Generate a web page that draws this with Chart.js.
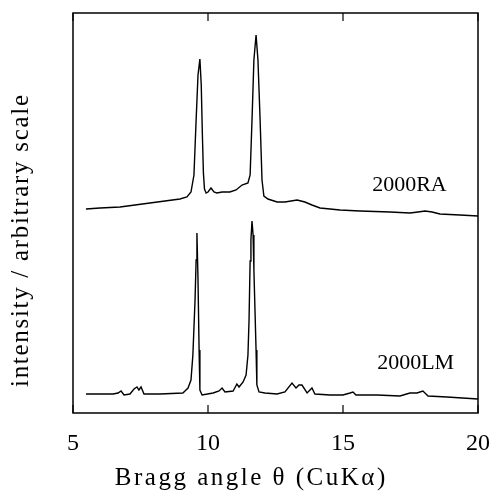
<!DOCTYPE html>
<html>
<head>
<meta charset="utf-8">
<script src="https://cdn.jsdelivr.net/npm/chart.js@4/dist/chart.umd.min.js"></script>
<style>
  html, body { margin: 0; padding: 0; background: #fff; }
  #wrap { width: 497px; height: 491px; }
</style>
</head>
<body>
<div id="wrap"><canvas id="xrdChart"></canvas></div>
<script>
// XRD patterns, Bragg angle (deg) vs. intensity (arbitrary, offset traces)
var seriesNames = ["2000RA", "2000LM"];
var xTicks = [5, 10, 15, 20];
var xTitle = 'Bragg angle θ (CuKα)';
var yTitle = 'intensity / arbitrary scale';

var raTheta = [5.48, 6.0, 6.74, 7.85, 8.96, 9.22, 9.37, 9.48, 9.56, 9.63, 9.70, 9.75, 9.79, 9.83, 9.87, 9.93,
  10.0, 10.11, 10.22, 10.33, 10.52, 10.81, 11.04, 11.26, 11.48, 11.56, 11.63, 11.70, 11.78, 11.85, 11.93,
  12.0, 12.07, 12.22, 12.56, 12.85, 13.30, 13.59, 13.85, 14.15, 14.89, 15.63, 16.74, 17.48, 17.78, 18.04,
  18.30, 18.59, 19.33, 20.0];
var raIntensity = [51.0, 51.25, 51.5, 52.5, 53.5, 54, 55.25, 59.5, 73.25, 84.5, 88.5, 82, 70, 60, 56, 55,
  55.25, 56.25, 55.25, 55, 55.25, 55.25, 55.75, 57, 57.5, 59.5, 73.25, 88.25, 94.5, 88.25, 73.25,
  58.25, 54.25, 53.5, 52.75, 52.75, 53.25, 52.75, 52, 51.25, 50.75, 50.5, 50.25, 50, 50.25, 50.5,
  50.25, 49.75, 49.5, 49.25];

var lmTheta = [5.48, 6.0, 6.48, 6.67, 6.78, 6.89, 7.11, 7.26, 7.37, 7.44, 7.52, 7.63, 8.22, 9.07, 9.26,
  9.37, 9.44, 9.52, 9.56, 9.59, 9.63, 9.67, 9.70, 9.78, 10.19, 10.41, 10.52, 10.63, 10.93, 11.07,
  11.15, 11.30, 11.41, 11.48, 11.52, 11.56, 11.59, 11.63, 11.67, 11.70, 11.74, 11.78, 11.81, 11.89, 12.11,
  12.56, 12.85, 13.11, 13.26, 13.37, 13.48, 13.67, 13.85, 13.96, 14.52, 15.0, 15.26, 15.37, 15.48, 16.26,
  17.11, 17.48, 17.74, 17.96, 18.15, 18.85, 20.0];
var lmIntensity = [4.75, 4.75, 4.75, 5, 5.5, 4.5, 4.75, 6, 6.5, 5.75, 6.5, 4.75, 4.75, 5, 6.25,
  8.25, 14.5, 28.25, 38.25, 45, 33.25, 15.75, 5.75, 4.5, 5, 5.5, 6.25, 5.25, 5.5, 7.25,
  6.5, 7.75, 9.5, 14.5, 23.25, 38, 43.25, 48, 44.5, 35.75, 25.75, 15.75, 7, 5.25, 5,
  4.75, 5.25, 7.5, 6.25, 7, 7, 5, 6.25, 4.75, 4.5, 4.5, 5, 5.25, 4.5, 4.5,
  4.25, 5, 5, 5.5, 4.25, 4, 3.5];

// where each trace's name is written, in data units
var labelTheta = [17.46, 17.69];
var labelIntensity = [57, 12.5];

function toPoints(xs, ys) {
    return xs.map(function (x, i) { return { x: x, y: ys[i] }; });
}

var serif = "'Liberation Serif', 'DejaVu Serif', serif";

// centred text with a little tracking, like the typeset axis titles
function spacedText(ctx, text, x, y, spacing) {
    ctx.letterSpacing = spacing + 'px';
    var w = ctx.measureText(text).width;
    var hasSpacing = ctx.letterSpacing === spacing + 'px';
    if (hasSpacing) w -= spacing;
    ctx.textAlign = 'left';
    ctx.fillText(text, x - w / 2, y);
    ctx.letterSpacing = '0px';
}

// frame, inward ticks, axis titles and trace names
var decorations = {
    id: 'decorations',
    afterDraw: function (chart) {
        var ctx = chart.ctx;
        var a = chart.chartArea;
        var xs = chart.scales.x, ys = chart.scales.y;
        ctx.save();
        ctx.strokeStyle = '#000';
        ctx.lineWidth = 1.5;
        ctx.strokeRect(a.left, a.top, a.right - a.left, a.bottom - a.top);
        ctx.lineWidth = 1.2;
        xTicks.forEach(function (t) {
            var px = xs.getPixelForValue(t);
            ctx.beginPath();
            ctx.moveTo(px, a.top); ctx.lineTo(px, a.top + 8);
            ctx.moveTo(px, a.bottom); ctx.lineTo(px, a.bottom - 8);
            ctx.stroke();
        });

        ctx.fillStyle = '#000';
        ctx.font = '22px ' + serif;
        ctx.textAlign = 'center';
        ctx.textBaseline = 'middle';
        seriesNames.forEach(function (name, i) {
            ctx.fillText(name, xs.getPixelForValue(labelTheta[i]), ys.getPixelForValue(labelIntensity[i]));
        });

        ctx.font = '25px ' + serif;
        spacedText(ctx, xTitle, 250, 478, 2.5);

        ctx.translate(21, 241);
        ctx.rotate(-Math.PI / 2);
        spacedText(ctx, yTitle, 0, 0, 1.7);
        ctx.restore();
    }
};

var ctx = document.getElementById('xrdChart').getContext('2d');
var xrdChart = new Chart(ctx, {
    type: 'line',
    data: {
        datasets: [{
            label: seriesNames[0],
            data: toPoints(raTheta, raIntensity)
        }, {
            label: seriesNames[1],
            data: toPoints(lmTheta, lmIntensity)
        }]
    },
    options: {
        responsive: true,
        maintainAspectRatio: false,
        animation: false,
        events: [],
        layout: { padding: { top: 13, right: 19, left: 0, bottom: 0 } },
        elements: {
            line: { borderColor: '#000', borderWidth: 1.4, tension: 0, fill: false },
            point: { radius: 0 }
        },
        plugins: {
            legend: { display: false },
            tooltip: { enabled: false }
        },
        scales: {
            x: {
                type: 'linear',
                min: 5,
                max: 20,
                afterBuildTicks: function (scale) {
                    scale.ticks = xTicks.map(function (v) { return { value: v }; });
                },
                afterFit: function (scale) { scale.height = 78; },
                // tick marks hidden, but their length still spaces the labels
                grid: { display: false, drawTicks: true, tickLength: 13 },
                border: { display: false },
                ticks: {
                    color: '#000',
                    padding: 3,
                    maxRotation: 0,
                    font: { family: serif, size: 24 }
                }
            },
            y: {
                type: 'linear',
                min: 0,
                max: 100,
                afterFit: function (scale) { scale.width = 73; },
                grid: { display: false },
                border: { display: false },
                ticks: { display: false }
            }
        }
    },
    plugins: [decorations]
});
</script>
</body>
</html>
